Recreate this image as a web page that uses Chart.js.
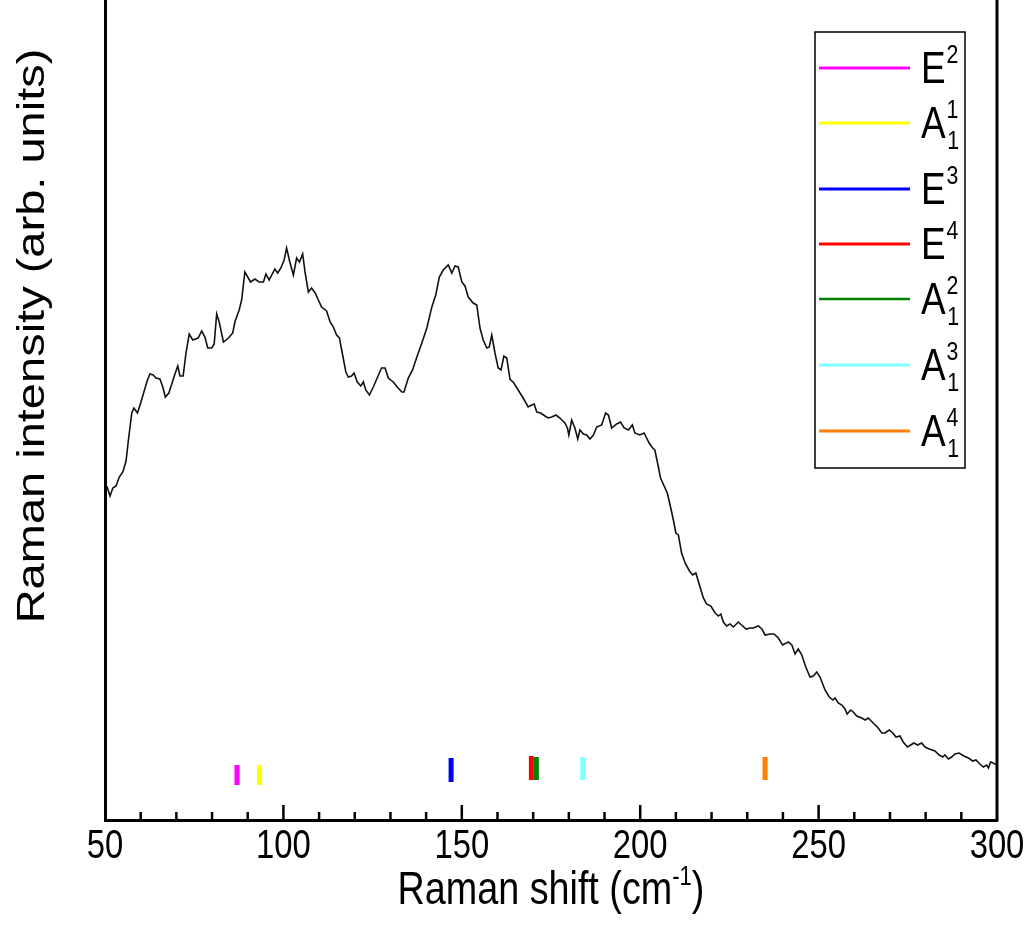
<!DOCTYPE html>
<html lang="en">
<head>
<meta charset="UTF-8">
<title>Raman spectrum</title>
<script src="https://cdn.jsdelivr.net/npm/chart.js"></script>
<style>
  html, body { margin: 0; padding: 0; background: #fff; }
</style>
</head>
<body>
<canvas id="raman" width="1027" height="939"></canvas>
<script>
// spectrum (intensity in arbitrary units)
const ramanShift = [
  50.0,50.6,51.4,52.2,53.1,54.0,55.0,55.9,56.5,57.5,
  58.1,59.1,60.0,60.9,61.9,62.6,63.5,64.3,65.4,66.2,
  66.9,67.9,68.8,69.7,70.4,71.0,71.9,72.7,73.6,74.6,
  76.1,77.1,78.0,78.8,79.9,80.6,81.3,82.0,83.2,84.6,
  85.8,86.4,87.6,88.3,89.2,90.8,92.0,93.2,94.4,95.1,
  96.0,97.6,98.4,99.3,100.2,100.9,101.8,102.8,103.7,104.5,
  105.4,106.1,107.0,107.9,108.9,109.8,110.7,112.1,113.1,114.0,
  114.9,115.7,116.6,117.5,118.2,119.1,119.8,120.7,121.7,122.4,
  123.1,124.1,125.2,126.4,127.5,128.5,129.4,130.8,131.9,133.2,
  133.8,135.0,136.2,137.4,138.8,140.2,141.6,142.7,143.7,144.8,
  146.2,147.2,148.1,149.0,150.0,150.9,151.8,153.2,154.2,155.1,
  156.0,157.0,157.7,158.4,159.3,160.2,161.0,161.8,162.6,163.5,
  164.6,165.8,167.2,168.6,169.6,170.3,171.0,172.1,173.3,174.2,
  175.2,176.4,177.5,178.9,179.6,180.0,180.8,181.7,182.5,183.1,
  184.1,185.0,185.9,186.9,187.8,189.2,190.3,191.1,192.0,193.4,
  194.5,195.5,196.7,197.8,198.5,199.9,201.1,202.5,203.5,204.1,
  205.1,205.7,206.7,207.6,208.5,209.3,210.0,210.7,211.6,212.6,
  213.8,214.7,215.6,216.6,217.7,218.6,219.8,221.0,221.9,222.6,
  223.3,224.2,225.2,226.1,227.5,228.4,229.7,230.8,231.7,233.1,
  234.1,235.0,236.4,237.5,238.7,239.9,241.5,242.5,243.4,244.3,
  245.3,246.4,247.6,248.5,249.5,250.4,251.8,253.0,254.0,254.6,
  255.5,256.5,257.4,258.0,259.0,259.7,260.7,262.1,263.0,263.9,
  265.3,266.7,267.7,268.6,269.8,270.8,271.7,272.8,273.7,274.9,
  275.8,276.7,277.7,278.9,279.8,281.0,282.6,283.8,284.8,285.4,
  286.4,287.3,288.2,289.4,290.7,292.0,293.2,294.1,295.2,296.2,
  297.1,297.6,298.2,299.0,299.7
];
const intensity = [
  335,333,324,332,334,343,348,359,378,407,
  412,407,417,428,440,446,445,442,441,433,
  423,427,437,447,454,444,444,467,486,480,
  482,489,483,472,472,476,506,498,478,482,
  487,498,510,520,548,538,541,538,538,546,
  540,551,547,552,560,572,558,545,562,558,
  566,547,528,532,527,520,513,509,498,493,
  485,482,465,448,443,444,447,438,434,438,
  430,425,433,443,452,452,442,438,433,428,
  428,442,450,463,477,492,513,525,543,550,
  555,547,554,553,538,534,523,517,515,492,
  480,472,473,485,467,452,450,464,462,441,
  437,430,422,413,415,416,408,407,404,402,
  403,405,402,397,392,385,400,392,381,390,
  386,385,381,385,393,395,407,405,392,396,
  398,392,390,395,387,385,387,377,372,370,
  353,342,334,327,313,300,287,285,267,257,
  249,245,247,235,222,216,214,207,204,206,
  198,194,196,193,198,195,191,192,192,194,
  191,185,186,186,182,175,178,175,166,171,
  165,153,143,144,148,143,130,123,120,122,
  117,115,111,106,110,108,104,102,100,102,
  97,92,87,87,90,87,83,84,78,73,
  75,77,75,77,73,71,69,65,63,65,
  61,63,66,67,64,62,59,60,56,53,
  55,52,58,57,55
];

// phonon modes: symbol, superscript, subscript, position, marker extent
const modeLetter = ['E', 'A', 'E', 'E', 'A', 'A', 'A'];
const modeSup = ['2', '1', '3', '4', '2', '3', '4'];
const modeSub = ['', '1', '', '', '1', '1', '1'];
const modeShift = [87.0, 93.3, 147.0, 169.5, 170.9, 183.9, 235.0];
const modeLow = [35, 35, 38, 40, 40, 40, 40];
const modeHigh = [55, 55, 62, 64, 63, 63, 63];
const modeColors = ['#ff00ff', '#ffff00', '#0000ff', '#ff0000', '#008000', '#80ffff', '#ff8000'];

const xMin = 50, xMax = 300, xMajor = 50, xMinor = 10;
const TEXT = "'Liberation Sans', Arial, sans-serif";
const SQUEEZE = 0.82;

const datasets = [{
  label: 'spectrum',
  data: ramanShift.map((x, i) => ({ x: x, y: intensity[i] })),
  borderColor: '#111',
  borderWidth: 1.6,
  pointRadius: 0,
  tension: 0
}];
modeShift.forEach((x, i) => {
  datasets.push({
    label: modeLetter[i] + modeSup[i] + modeSub[i],
    data: [{ x: x, y: modeLow[i] }, { x: x, y: modeHigh[i] }],
    borderColor: modeColors[i],
    borderWidth: 5,
    borderCapStyle: 'butt',
    pointRadius: 0
  });
});

// frame, inward ticks, narrow labels, axis titles and the legend with super/subscripts
const decor = {
  id: 'decor',
  afterDraw(chart) {
    const { ctx, chartArea: a, scales: { x } } = chart;
    ctx.save();
    ctx.strokeStyle = '#000';
    ctx.fillStyle = '#000';

    ctx.lineWidth = 3;
    ctx.beginPath();
    ctx.moveTo(a.right, a.top);
    ctx.lineTo(a.right, a.bottom + 1.5);
    ctx.stroke();

    ctx.lineWidth = 2.5;
    for (let v = xMin + xMinor; v < xMax; v += xMinor) {
      const px = x.getPixelForValue(v);
      const len = v % xMajor === 0 ? 15 : 8;
      ctx.beginPath();
      ctx.moveTo(px, a.bottom);
      ctx.lineTo(px, a.bottom - len);
      ctx.stroke();
    }

    // tick labels of the x scale, condensed like the original
    ctx.font = '40px ' + TEXT;
    ctx.textAlign = 'center';
    ctx.textBaseline = 'alphabetic';
    x.ticks.forEach(t => {
      ctx.save();
      ctx.translate(x.getPixelForValue(t.value), 858);
      ctx.scale(SQUEEZE, 1);
      ctx.fillText(String(t.value), 0, 0);
      ctx.restore();
    });

    // y title (rotated, squeezed across the glyphs)
    ctx.save();
    ctx.translate(33, 336);
    ctx.rotate(-Math.PI / 2);
    ctx.scale(1, SQUEEZE);
    ctx.font = '47px ' + TEXT;
    ctx.textAlign = 'center';
    ctx.textBaseline = 'middle';
    ctx.fillText('Raman intensity (arb. units)', 0, 0);
    ctx.restore();

    // x title with superscript
    ctx.save();
    ctx.textAlign = 'left';
    ctx.font = '46px ' + TEXT;
    const t1 = 'Raman shift (cm', t3 = ')';
    const w1 = ctx.measureText(t1).width, w3 = ctx.measureText(t3).width;
    ctx.font = '27px ' + TEXT;
    const w2 = ctx.measureText('-1').width;
    const total = (w1 + w2 + w3) * SQUEEZE;
    ctx.translate((a.left + a.right) / 2 - total / 2, 904);
    ctx.scale(SQUEEZE, 1);
    ctx.font = '46px ' + TEXT;
    ctx.fillText(t1, 0, 0);
    ctx.font = '27px ' + TEXT;
    ctx.fillText('-1', w1, -19);
    ctx.font = '46px ' + TEXT;
    ctx.fillText(t3, w1 + w2, 0);
    ctx.restore();

    // legend
    ctx.textAlign = 'left';
    ctx.lineWidth = 1.5;
    ctx.strokeRect(815, 32, 150, 436);
    let ly = 68;
    modeLetter.forEach((m, i) => {
      ctx.strokeStyle = modeColors[i];
      ctx.lineWidth = i === 4 ? 2.5 : 3;
      ctx.beginPath();
      ctx.moveTo(819, ly);
      ctx.lineTo(910, ly);
      ctx.stroke();
      ctx.save();
      ctx.translate(921, ly);
      ctx.scale(SQUEEZE, 1);
      ctx.fillStyle = '#000';
      ctx.font = '45px ' + TEXT;
      ctx.fillText(m, 0, 15);
      const mw = ctx.measureText(m).width;
      ctx.font = '26px ' + TEXT;
      ctx.fillText(modeSup[i], mw + 1, -5);
      if (modeSub[i]) ctx.fillText(modeSub[i], mw + 2, 26);
      ctx.restore();
      ly += modeSub[i] ? 66 : 55;
    });
    ctx.restore();
  }
};

new Chart(document.getElementById('raman').getContext('2d'), {
  type: 'line',
  data: { datasets: datasets },
  options: {
    responsive: false,
    animation: false,
    layout: { padding: { top: 0, right: 30, bottom: 0, left: 0 } },
    plugins: { legend: { display: false }, tooltip: { enabled: false } },
    scales: {
      x: {
        type: 'linear',
        min: xMin,
        max: xMax,
        ticks: { stepSize: xMajor, display: false },
        grid: { display: false, drawTicks: false },
        border: { display: true, color: '#000', width: 3 },
        afterFit: s => { s.height = 119; }
      },
      y: {
        min: 0,
        max: 820,
        ticks: { display: false },
        grid: { display: false, drawTicks: false },
        border: { display: true, color: '#000', width: 3 },
        afterFit: s => { s.width = 105; }
      }
    }
  },
  plugins: [decor]
});
</script>
</body>
</html>
